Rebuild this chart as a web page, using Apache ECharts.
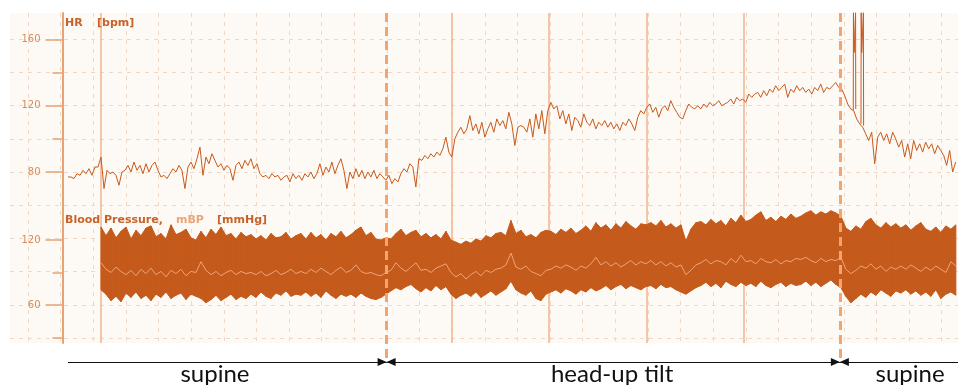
<!DOCTYPE html>
<html>
<head>
<meta charset="utf-8">
<title>HR / Blood Pressure - head-up tilt</title>
<script src="https://cdn.jsdelivr.net/npm/echarts@6/dist/echarts.min.js"></script>
<style>
  html, body { margin: 0; padding: 0; background: #fff; }
  #chart { width: 958px; height: 385px; }
</style>
</head>
<body>
<div id="chart"></div>
<script>
// time axis in minutes, one grid cell = 1 min
const hrStart = 1.226, hrStep = 0.0919;
const bpStart = 2.237, bpStep = 0.1532;

// heart rate [bpm]
const hrValues = [
  77,77,76,79,78,81,79,82,78,83,
  83,89,70,81,79,80,78,72,80,81,
  84,80,86,81,84,79,85,80,84,86,
  81,77,78,76,79,82,80,84,81,70,
  83,86,82,88,95,78,89,85,91,87,
  83,85,81,84,82,75,84,86,82,87,
  84,88,82,85,79,77,78,76,79,77,
  78,75,77,78,74,79,76,78,75,79,
  77,80,76,79,85,78,83,80,86,79,
  84,88,81,70,80,76,82,77,81,76,
  80,77,81,76,79,77,75,78,73,76,
  74,79,82,80,85,83,71,88,87,90,
  88,91,89,92,90,94,101,92,89,100,
  104,107,103,106,114,105,109,103,110,101,
  106,110,104,112,108,111,106,116,109,96,
  107,108,107,104,112,101,115,106,117,103,
  117,122,118,120,112,117,109,115,105,113,
  111,107,115,110,108,112,106,110,108,111,
  107,110,106,109,105,110,108,112,109,105,
  113,117,115,119,121,116,119,113,118,120,
  117,123,119,116,113,112,117,121,119,118,
  120,118,121,119,122,120,121,123,120,121,
  122,124,121,125,123,124,122,127,125,127,
  128,125,129,126,130,128,132,129,131,133,
  125,130,128,132,129,131,128,130,127,131,
  129,133,128,131,130,132,134,131,130,126,
  121,118,117,112,109,107,103,99,104,85,
  101,104,99,103,97,104,100,95,99,89,
  97,88,99,93,97,92,98,94,97,91,
  96,93,90,84,93,80,86
];
// artefact spikes after tilt-back
const hrSpikes = [
  [[25.290, 117], [25.296, 176], [25.318, 152], [25.355, 152], [25.361, 176], [25.367, 118]],
  [[25.527, 109], [25.533, 176], [25.550, 152], [25.595, 152], [25.601, 176], [25.607, 108]]
];

// blood pressure [mmHg]: systolic / diastolic envelope and mean
const bpSys = [
  132,124,131,122,128,132,121,129,124,131,
  133,123,126,121,134,125,127,130,122,120,
  128,122,130,125,132,124,126,121,127,123,
  125,121,124,120,126,122,123,127,121,124,
  126,121,127,122,125,120,126,123,128,122,
  125,129,132,124,127,121,120,122,121,126,
  130,124,127,129,123,126,122,125,121,128,
  120,118,116,119,117,121,119,124,122,126,
  127,124,138,126,129,123,125,122,127,129,
  128,125,130,127,131,126,129,133,128,136,
  131,134,129,135,131,137,133,130,135,134,
  136,133,138,132,135,131,134,119,130,136,
  137,134,139,135,138,133,140,136,143,137,
  139,143,146,138,141,137,142,139,144,140,
  142,145,147,143,146,144,147,145,142,131,
  128,133,130,137,140,134,131,136,132,135,
  131,134,129,133,136,130,128,132,127,133,
  130,134
];
const bpDia = [
  74,70,64,68,63,71,67,72,66,69,
  64,70,67,72,66,69,71,65,70,68,
  66,62,65,69,64,67,70,65,68,66,
  70,67,72,68,66,71,69,73,68,70,
  69,72,68,71,67,73,69,66,70,68,
  70,67,71,68,66,65,67,70,73,76,
  74,77,79,75,72,76,73,78,74,77,
  70,66,69,71,68,72,67,70,73,69,
  72,75,82,74,71,69,73,66,64,70,
  72,74,71,75,73,70,74,72,76,73,
  75,78,74,77,79,75,78,76,74,77,
  78,75,79,76,77,74,72,70,73,76,
  78,81,77,80,76,82,79,77,81,78,
  80,77,82,78,76,79,81,77,80,78,
  79,82,78,81,77,80,83,79,76,68,
  62,66,70,67,72,69,74,71,68,73,
  71,74,70,73,69,72,68,74,66,70,
  72,69
];
const bpMean = [
  99,93,90,95,91,88,92,87,93,89,
  94,88,91,86,92,89,93,87,91,90,
  100,92,88,91,87,90,92,88,91,89,
  90,88,91,87,89,92,88,90,93,89,
  91,89,93,90,94,91,88,92,95,90,
  92,97,91,89,90,88,87,90,92,99,
  94,91,95,99,92,93,90,94,96,98,
  90,86,89,84,88,91,87,92,90,93,
  94,97,108,95,93,96,91,89,87,92,
  93,96,94,97,95,92,96,94,98,104,
  97,100,96,99,95,98,101,97,100,98,
  101,97,100,96,99,95,97,88,92,97,
  99,102,98,101,100,97,103,99,106,100,
  101,98,103,100,99,102,98,101,100,103,
  102,104,101,99,103,100,102,101,104,93,
  89,92,96,94,98,93,96,91,95,93,
  96,93,97,94,91,95,92,96,93,90,
  100,96
];

// markers
const eventTimes = [2.237, 12.99, 15.97, 18.97, 21.94];
const phaseTimes = [1.226, 10.99, 24.88, 28.5];
const phaseNames = ['supine', 'head-up tilt', 'supine'];
const phaseLabelTimes = [5.73, 17.9, 27.03];

const hrTicks = { min: 80, max: 160, step: 40 };
const bpTicks = { min: 30, max: 120, step: 30, labelled: [60, 120] };

const C = {
  bg: '#fdf9f4', grid: '#f1d8c6', axis: '#e8a274', label: '#d98b58',
  event: '#efb590', phase: '#f5a46c', hr: '#c85a1c', band: '#c45a1b',
  mean: '#eea47a', title: '#c6622a', titleLight: '#eba47b'
};

const chart = echarts.init(document.getElementById('chart'));

function hiddenX(i) {
  return { type: 'value', gridIndex: i, min: 0, max: 28.5, show: false };
}
function hiddenY(i) {
  return { type: 'value', gridIndex: i, min: 0, max: 1, show: false };
}

const hrData = hrValues.map((v, i) => [hrStart + i * hrStep, v]);
const bandData = bpSys.map((v, i) => [bpStart + i * bpStep, v, bpDia[i]]);
const meanData = bpMean.map((v, i) => [bpStart + i * bpStep, v]);

// systolic/diastolic band: one quad per sample interval
function renderBand(params, api) {
  const i = params.dataIndex;
  if (i >= bandData.length - 1) return;
  const a = bandData[i], b = bandData[i + 1];
  const pts = [
    api.coord([a[0], a[1]]), api.coord([b[0], b[1]]),
    api.coord([b[0], b[2]]), api.coord([a[0], a[2]])
  ];
  return {
    type: 'polygon',
    shape: { points: pts },
    style: { fill: C.band, stroke: C.band, lineWidth: 1 }
  };
}

const arrowSize = [8, 9];
function arrowEnd(t, withArrow) {
  return { coord: [t, 1], symbol: withArrow ? 'triangle' : 'none', symbolSize: arrowSize, symbolOffset: [0, 4.5] };
}
const phaseSegments = phaseNames.map((name, i) => [
  arrowEnd(phaseTimes[i], i > 0),
  arrowEnd(phaseTimes[i + 1], i < phaseNames.length - 1)
]);

const option = {
  animation: false,
  backgroundColor: '#fff',
  grid: [
    { left: 10, right: 0, top: 13, bottom: 42, show: true, backgroundColor: C.bg, borderWidth: 0 }, // 0 plot bg
    { left: 10, right: 0, top: 39.3, bottom: 47 },   // 1 horizontal grid lines
    { left: 28, right: 0, top: 13, bottom: 42 },     // 2 frame, vertical grid, events
    { left: 28, right: 0, top: 39.3, bottom: 213 },  // 3 HR
    { left: 28, right: 0, top: 240, bottom: 47.5 },  // 4 BP
    { left: 28, right: 0, top: 240, bottom: 80 },    // 5 BP major ticks
    { left: 28, right: 0, top: 13, bottom: 27 },     // 6 phase change lines
    { left: 28, right: 0, top: 352, bottom: 13 }     // 7 phase arrows
  ],
  xAxis: [
    hiddenX(0), hiddenX(1),
    {
      type: 'value', gridIndex: 2, min: 0, max: 28.5, interval: 1,
      axisLine: { show: false }, axisTick: { show: false }, axisLabel: { show: false },
      splitLine: { show: true, showMaxLine: false, lineStyle: { color: C.grid, type: [4, 5], width: 1 } }
    },
    hiddenX(3), hiddenX(4), hiddenX(5), hiddenX(6), hiddenX(7)
  ],
  yAxis: [
    hiddenY(0),
    {
      type: 'value', gridIndex: 1, min: 0, max: 9, interval: 1,
      axisLine: { show: false }, axisTick: { show: false }, axisLabel: { show: false },
      splitLine: { show: true, lineStyle: { color: C.grid, type: [4, 5], width: 1 } }
    },
    {
      type: 'value', gridIndex: 2, min: 0, max: 1, offset: -35,
      axisLine: { show: true, lineStyle: { color: C.axis, width: 2 } },
      axisTick: { show: false }, axisLabel: { show: false }, splitLine: { show: false }
    },
    {
      type: 'value', gridIndex: 3, min: hrTicks.min, max: hrTicks.max, interval: hrTicks.step, offset: -34.5,
      axisLine: { show: false },
      axisTick: { show: true, length: 17, lineStyle: { color: C.axis, width: 1.5 } },
      minorTick: { show: true, splitNumber: 2, length: 10, lineStyle: { color: C.axis, width: 1.5 } },
      axisLabel: { margin: 22, color: C.label, fontSize: 10, fontFamily: 'DejaVu Sans' },
      splitLine: { show: false }
    },
    {
      type: 'value', gridIndex: 4, min: bpTicks.min, max: bpTicks.max, interval: bpTicks.step, offset: -34.5,
      axisLine: { show: false },
      axisTick: { show: true, length: 10, lineStyle: { color: C.axis, width: 1.5 } },
      axisLabel: {
        margin: 22, color: C.label, fontSize: 10, fontFamily: 'DejaVu Sans',
        formatter: v => bpTicks.labelled.indexOf(v) >= 0 ? String(v) : ''
      },
      splitLine: { show: false }
    },
    {
      type: 'value', gridIndex: 5, min: 60, max: 120, interval: 60, offset: -34.5,
      axisLine: { show: false },
      axisTick: { show: true, length: 17, lineStyle: { color: C.axis, width: 1.5 } },
      axisLabel: { show: false }, splitLine: { show: false }
    },
    hiddenY(6),
    { type: 'value', gridIndex: 7, min: 0, max: 2, show: false }
  ],
  graphic: [
    { type: 'text', left: 65, top: 18, z: 10, style: { text: 'HR', font: 'bold 11px "DejaVu Sans"', fill: C.title } },
    { type: 'text', left: 97, top: 18, z: 10, style: { text: '[bpm]', font: 'bold 11px "DejaVu Sans"', fill: C.title } },
    { type: 'text', left: 65, top: 215, z: 10, style: { text: 'Blood Pressure,', font: 'bold 11px "DejaVu Sans"', fill: C.title } },
    { type: 'text', left: 176, top: 215, z: 10, style: { text: 'mBP', font: 'bold 11px "DejaVu Sans"', fill: C.titleLight } },
    { type: 'text', left: 217, top: 215, z: 10, style: { text: '[mmHg]', font: 'bold 11px "DejaVu Sans"', fill: C.title } }
  ],
  series: [
    {
      name: 'events', type: 'line', xAxisIndex: 2, yAxisIndex: 2, data: [], z: 1,
      markLine: {
        silent: true, symbol: 'none', animation: false, z: 1,
        label: { show: false },
        lineStyle: { color: C.event, width: 1.5, type: 'solid' },
        data: eventTimes.map(t => ({ xAxis: t }))
      }
    },
    {
      name: 'Blood Pressure', type: 'custom', xAxisIndex: 4, yAxisIndex: 4, clip: false,
      renderItem: renderBand, data: bandData, z: 2,
      encode: { x: 0, y: [1, 2] }
    },
    {
      name: 'mBP', type: 'line', xAxisIndex: 4, yAxisIndex: 4, clip: false,
      showSymbol: false, data: meanData, z: 3,
      lineStyle: { color: C.mean, width: 1 }
    },
    {
      name: 'HR', type: 'line', xAxisIndex: 3, yAxisIndex: 3, clip: false,
      showSymbol: false, data: hrData, z: 3,
      lineStyle: { color: C.hr, width: 1 }
    }
  ].concat(hrSpikes.map(s => ({
    name: 'HR artefact', type: 'line', xAxisIndex: 3, yAxisIndex: 3, clip: false,
    showSymbol: false, data: s, z: 3,
    lineStyle: { color: C.hr, width: 1 }
  }))).concat([
    {
      name: 'phase', type: 'line', xAxisIndex: 6, yAxisIndex: 6, data: [], z: 5,
      markLine: {
        silent: true, symbol: 'none', animation: false,
        label: { show: false },
        lineStyle: { color: C.phase, width: 3, type: [9, 5] },
        data: phaseTimes.slice(1, 3).map(t => ({ xAxis: t }))
      }
    },
    {
      name: 'phase arrows', type: 'line', xAxisIndex: 7, yAxisIndex: 7, data: [], z: 5,
      markLine: {
        silent: true, animation: false,
        lineStyle: { color: '#111', width: 1, type: 'solid' },
        itemStyle: { color: '#111' },
        label: { show: false },
        data: phaseSegments
      }
    },
    {
      name: 'phase labels', type: 'scatter', xAxisIndex: 7, yAxisIndex: 7, clip: false, z: 5,
      symbolSize: 0, silent: true,
      itemStyle: { opacity: 1 },
      data: phaseNames.map((n, i) => ({ name: n, value: [phaseLabelTimes[i], -0.25] })),
      label: {
        show: true, position: 'inside', formatter: '{b}', opacity: 1,
        color: '#111', fontSize: 24, fontFamily: 'Lato'
      }
    }
  ])
};

chart.setOption(option);
</script>
</body>
</html>
